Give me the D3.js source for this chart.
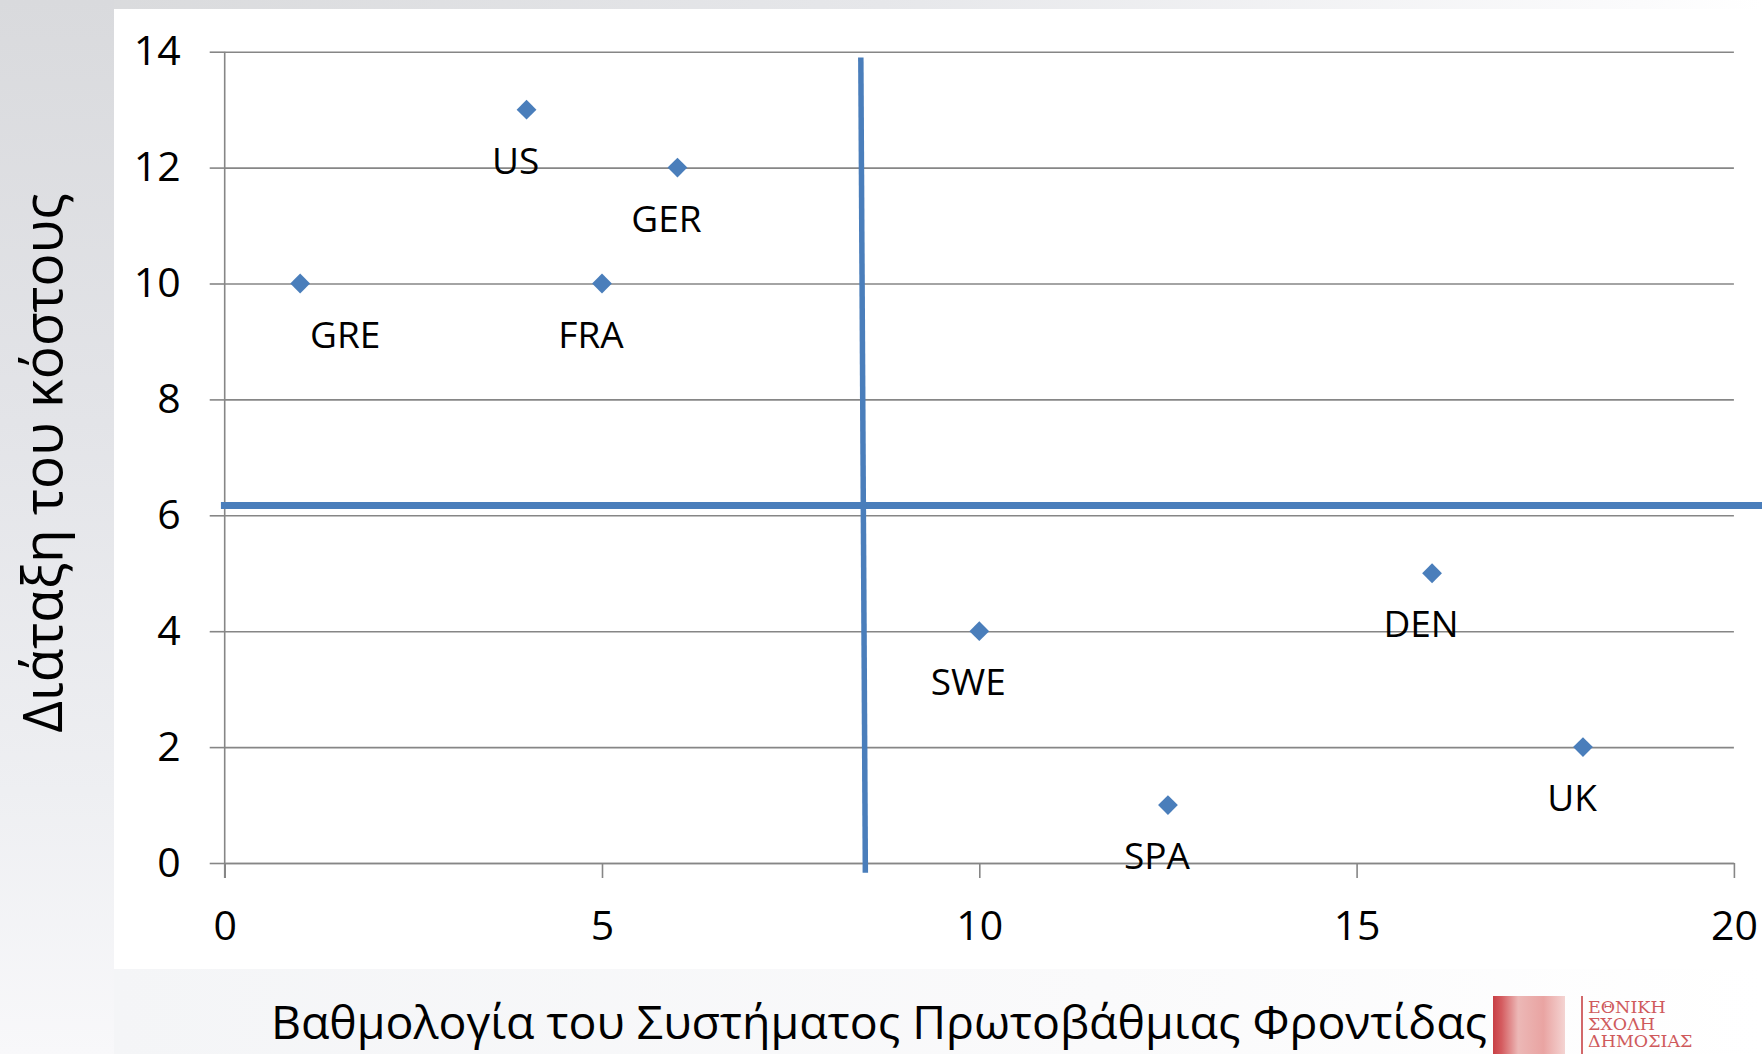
<!DOCTYPE html>
<html>
<head>
<meta charset="utf-8">
<script src="https://cdn.jsdelivr.net/npm/d3@7"></script>
<style>
  html, body { margin: 0; padding: 0; background: #ffffff; }
  svg { display: block; }
  text { font-family: "Open Sans", sans-serif; fill: #000; }
</style>
</head>
<body>
<div id="chart"></div>
<script>
// Chart data
var countries = ["GRE", "US", "GER", "FRA", "SWE", "SPA", "DEN", "UK"];
var scores    = [1, 4, 6, 5, 10, 12.5, 16, 18];   // x: primary care score
var ranks     = [10, 13, 12, 10, 4, 1, 5, 2];     // y: cost ranking
var xTicks = [0, 5, 10, 15, 20];
var yTicks = [0, 2, 4, 6, 8, 10, 12, 14];
// quadrant divider lines (data units)
var dividerX = [[8.43, 13.9], [8.49, -0.17]];
var dividerY = [[-0.05, 6.17], [20.4, 6.17]];

var xTitle = "Βαθμολογία του Συστήματος Πρωτοβάθμιας Φροντίδας";
var yTitle = "Διάταξη του κόστους";
var logoLines = ["ΕΘΝΙΚΗ", "ΣΧΟΛΗ", "ΔΗΜΟΣΙΑΣ"];

var svgWidth = 1762;
var svgHeight = 1054;

// plot area in pixels
var plot = { left: 224.7, right: 1733.9, top: 51.7, bottom: 863 };

var svg = d3.select("#chart")
            .append("svg")
            .attr("width", svgWidth)
            .attr("height", svgHeight);

// --- background (slide gradient + white chart area)
var defs = svg.append("defs");
function grad(id, x1, y1, x2, y2, stops) {
  var g = defs.append("linearGradient").attr("id", id)
              .attr("x1", x1).attr("y1", y1).attr("x2", x2).attr("y2", y2);
  stops.forEach(s => g.append("stop").attr("offset", s[0]).attr("stop-color", s[1]));
}
grad("topGrad", 0, 0, 1, 0, [[0, "#d8d9db"], [0.5, "#e6e7ea"], [0.93, "#fbfbfc"], [1, "#ffffff"]]);
grad("leftGrad", 0, 0, 0, 1, [[0, "#d9dadd"], [0.4, "#e3e4e8"], [0.75, "#eeeff2"], [1, "#f8f8fa"]]);
grad("botGrad", 0, 0, 1, 0, [[0, "#f4f5f7"], [0.6, "#fafafb"], [1, "#ffffff"]]);
grad("logoGrad", 0, 0, 1, 0, [[0, "#c22a30"], [0.12, "#d04a4e"], [0.35, "#eab0ae"], [0.7, "#e79a98"], [1, "#f3cfcd"]]);

svg.append("rect").attr("x", 0).attr("y", 0).attr("width", svgWidth).attr("height", svgHeight)
   .attr("fill", "#ffffff");
svg.append("rect").attr("x", 0).attr("y", 0).attr("width", svgWidth).attr("height", 9)
   .attr("fill", "url(#topGrad)");
svg.append("rect").attr("x", 0).attr("y", 0).attr("width", 114).attr("height", svgHeight)
   .attr("fill", "url(#leftGrad)");
svg.append("rect").attr("x", 114).attr("y", 969).attr("width", svgWidth - 114).attr("height", svgHeight - 969)
   .attr("fill", "url(#botGrad)");
svg.append("rect").attr("x", 114).attr("y", 9).attr("width", svgWidth - 114).attr("height", 960)
   .attr("fill", "#ffffff");

// --- scales
var xScale = d3.scaleLinear().domain([0, 20]).range([plot.left, plot.right]);
var yScale = d3.scaleLinear().domain([0, 14]).range([plot.bottom, plot.top]);

var gridColor = "#868686";

// Horizontal gridlines (left axis with full-width ticks)
var yAxis = d3.axisLeft(yScale)
              .tickValues(yTicks)
              .tickSize(-(plot.right - plot.left))
              .tickPadding(0)
              .tickFormat("");
var yAxisGroup = svg.append("g")
                    .attr("transform", `translate(${plot.left}, 0)`)
                    .call(yAxis);
yAxisGroup.select(".domain").remove();
yAxisGroup.selectAll("line").attr("stroke", gridColor).attr("stroke-width", 1.6);

// short outer ticks on the y axis
var yTickGroup = svg.append("g")
                    .attr("transform", `translate(${plot.left}, 0)`)
                    .call(d3.axisLeft(yScale).tickValues(yTicks).tickSize(15).tickPadding(29));
yTickGroup.select(".domain").remove();
yTickGroup.selectAll("line").attr("stroke", gridColor).attr("stroke-width", 1.6);
yTickGroup.selectAll("text")
          .style("font-family", "'Open Sans', sans-serif")
          .style("font-size", "41px")
          .attr("fill", "#000");

// x axis with ticks below
var xAxisGroup = svg.append("g")
                    .attr("transform", `translate(0, ${plot.bottom})`)
                    .call(d3.axisBottom(xScale).tickValues(xTicks).tickSize(15).tickSizeOuter(0).tickPadding(33));
xAxisGroup.select(".domain").attr("stroke", gridColor).attr("stroke-width", 1.6);
xAxisGroup.selectAll("line").attr("stroke", gridColor).attr("stroke-width", 1.6);
xAxisGroup.selectAll("text")
          .style("font-family", "'Open Sans', sans-serif")
          .style("font-size", "41px")
          .attr("fill", "#000");

// vertical axis line
svg.append("line")
   .attr("x1", xScale(0)).attr("x2", xScale(0))
   .attr("y1", yScale(14)).attr("y2", plot.bottom + 15)
   .attr("stroke", gridColor).attr("stroke-width", 1.6);

// --- quadrant divider lines
var blue = "#4a7ebb";
var lineGen = d3.line().x(d => xScale(d[0])).y(d => yScale(d[1]));
svg.append("path").attr("d", lineGen(dividerY))
   .attr("stroke", blue).attr("stroke-width", 7).attr("fill", "none");
svg.append("path").attr("d", lineGen(dividerX))
   .attr("stroke", blue).attr("stroke-width", 5.5).attr("fill", "none");

// --- points
var points = countries.map((c, i) => ({ name: c, x: scores[i], y: ranks[i] }));
var diamond = d3.symbol().type(d3.symbolDiamond2).size(250);

svg.selectAll(".pt")
   .data(points)
   .enter()
   .append("path")
   .attr("class", "pt")
   .attr("d", diamond)
   .attr("transform", d => `translate(${xScale(d.x)}, ${yScale(d.y)})`)
   .attr("fill", blue);

// data labels sit below each point; GRE is pushed to the right
var labelNudge = { GRE: 45 };
svg.selectAll(".lbl")
   .data(points)
   .enter()
   .append("text")
   .attr("class", "lbl")
   .attr("x", d => xScale(d.x) + (labelNudge[d.name] !== undefined ? labelNudge[d.name] : -11))
   .attr("y", d => yScale(d.y) + 64)
   .attr("text-anchor", "middle")
   .style("font-size", "37px")
   .text(d => d.name);

// --- axis titles
svg.append("text")
   .attr("x", 879)
   .attr("y", 1039)
   .attr("text-anchor", "middle")
   .style("font-size", "46.5px")
   .text(xTitle);

svg.append("text")
   .attr("transform", "translate(62, 463) rotate(-90)")
   .attr("text-anchor", "middle")
   .style("font-size", "55px")
   .text(yTitle);

// --- school logo (bottom right)
var logo = svg.append("g").attr("transform", "translate(1493, 996)");
logo.append("rect").attr("x", 0).attr("y", 0).attr("width", 72).attr("height", 58)
    .attr("fill", "url(#logoGrad)").attr("opacity", 0.9);
logo.append("rect").attr("x", 88).attr("y", 0).attr("width", 2).attr("height", 58)
    .attr("fill", "#d2686a");
logo.selectAll(".logoText")
    .data(logoLines)
    .enter()
    .append("text")
    .attr("class", "logoText")
    .attr("x", 95)
    .attr("y", (d, i) => 17 + i * 17)
    .style("font-family", "'DejaVu Serif', 'Liberation Serif', serif")
    .style("font-size", "17.5px")
    .style("fill", "#cf5a5c")
    .text(d => d);
</script>
</body>
</html>
